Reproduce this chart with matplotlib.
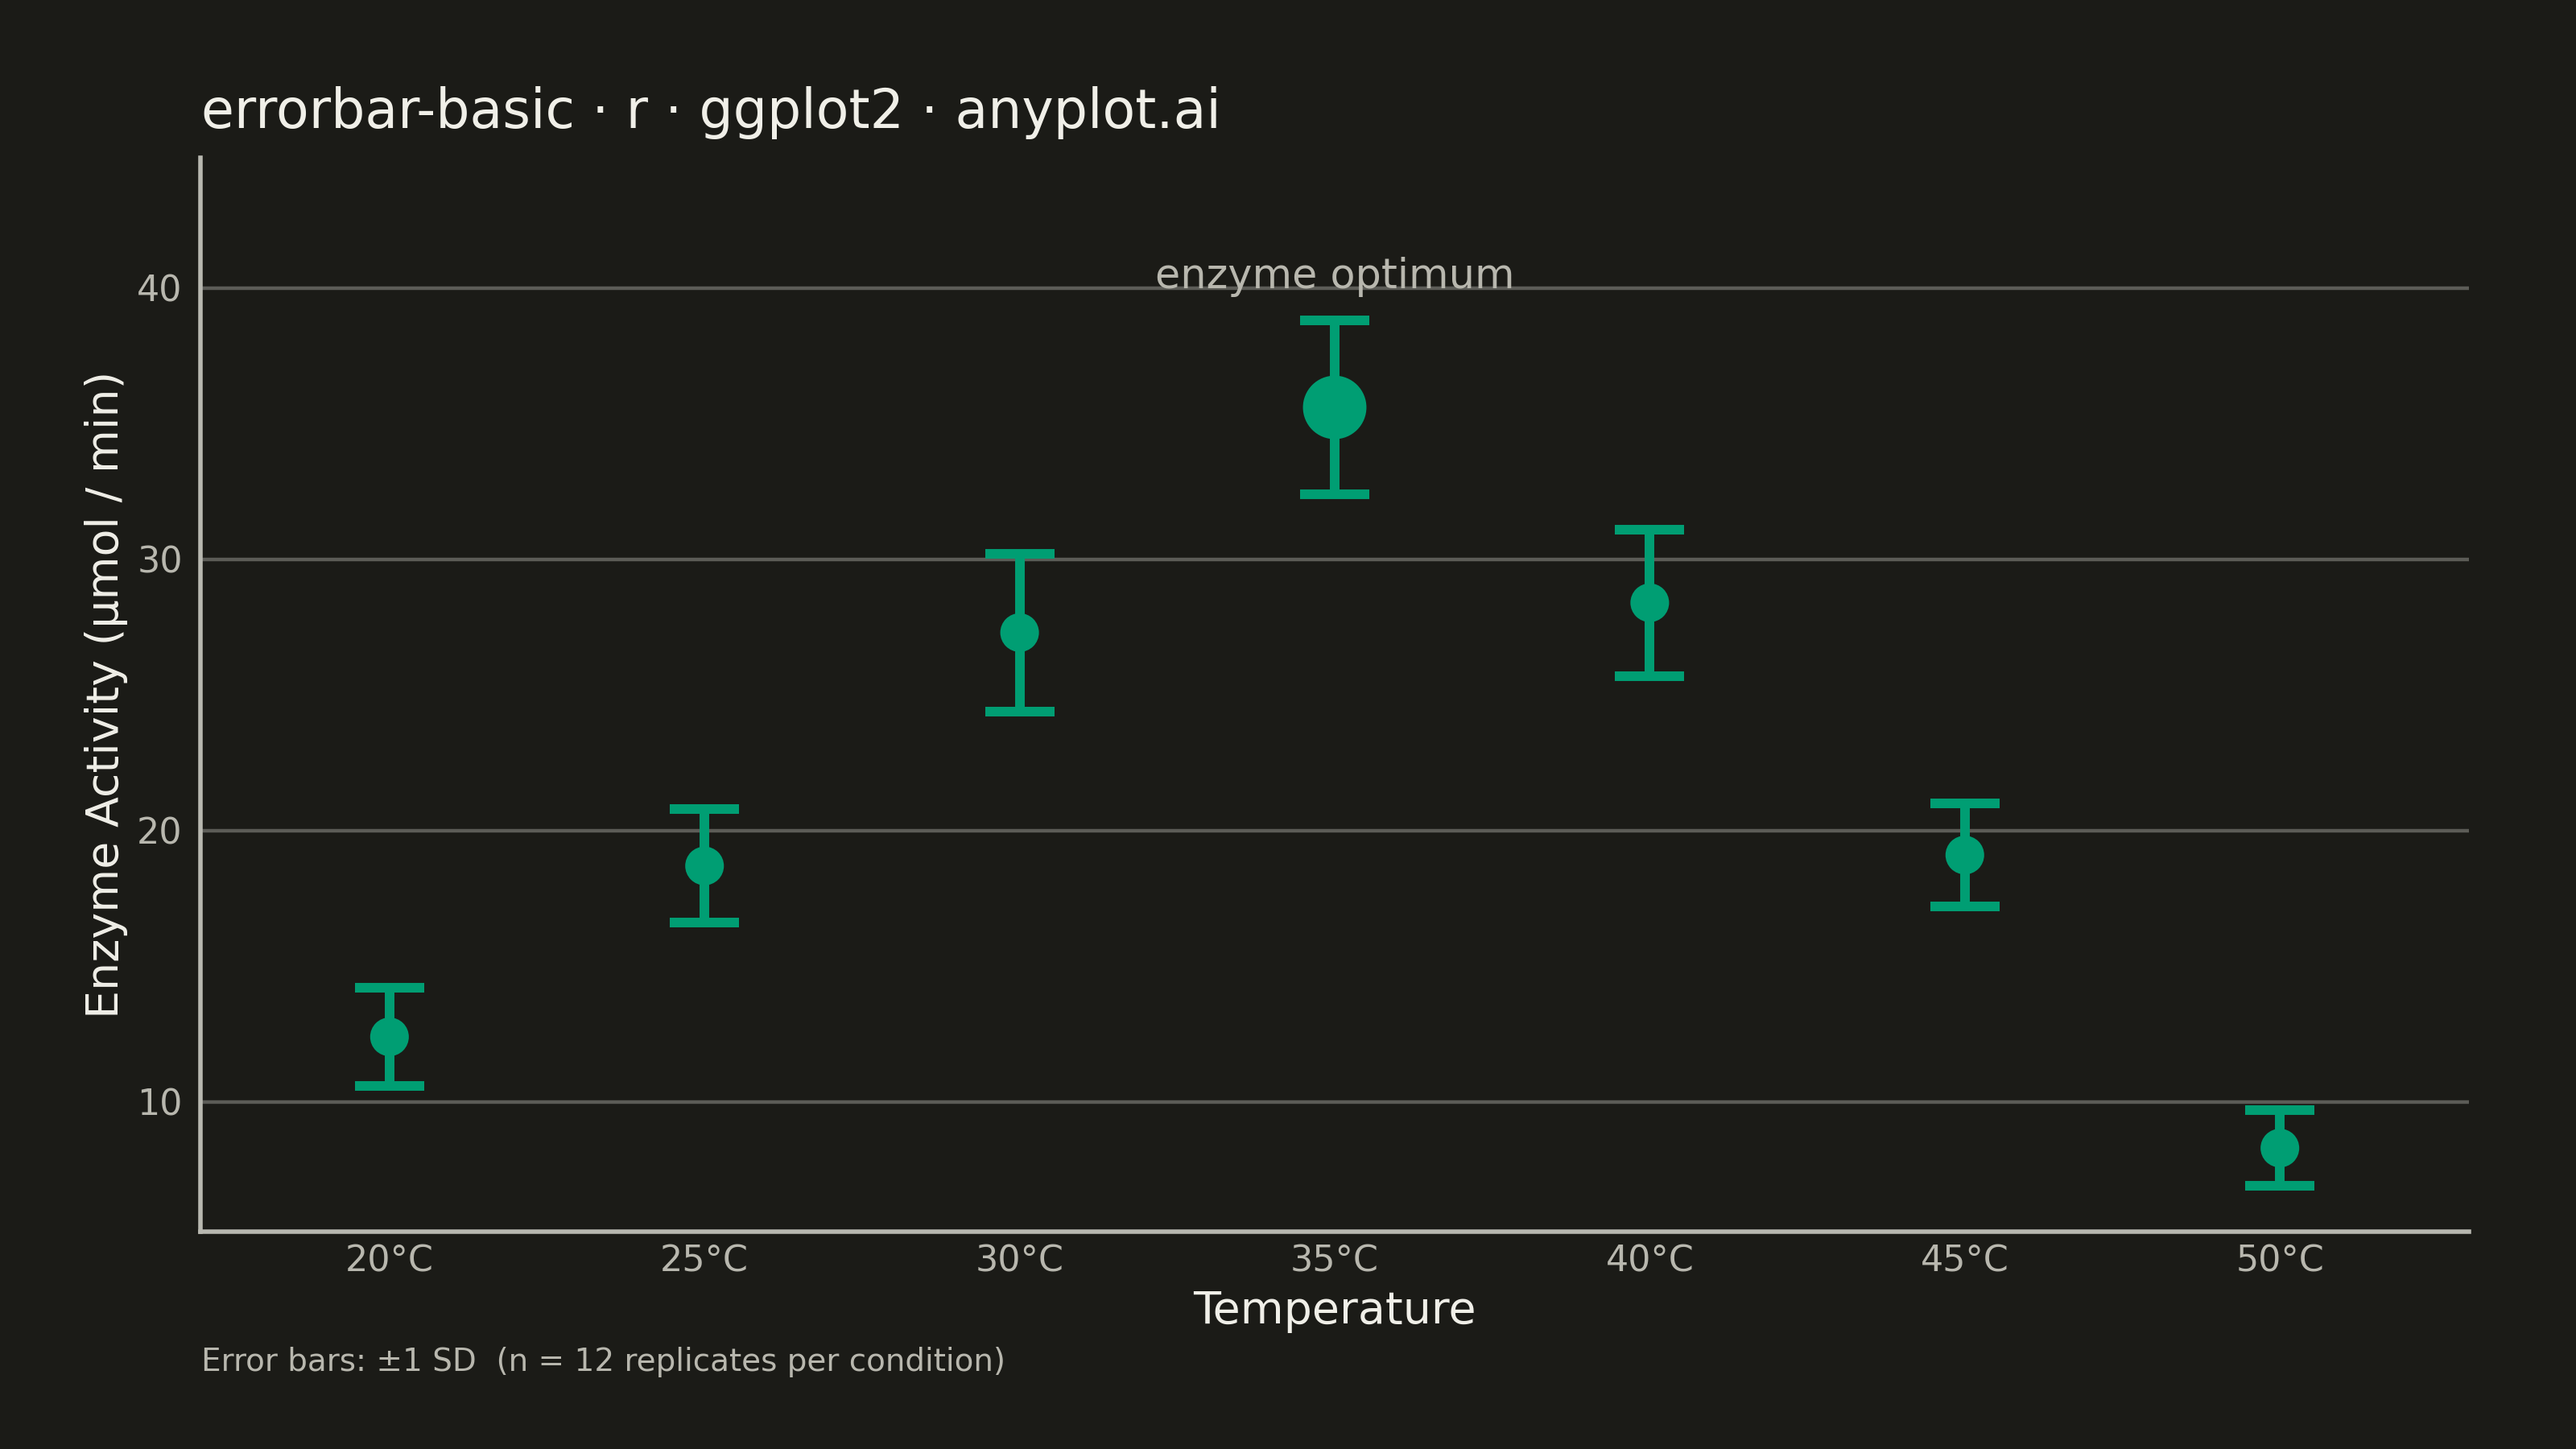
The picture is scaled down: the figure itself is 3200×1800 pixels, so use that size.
import matplotlib
matplotlib.use("Agg")
import matplotlib.pyplot as plt
import numpy as np

# Data
temperatures = ["20°C", "25°C", "30°C", "35°C", "40°C", "45°C", "50°C"]
mean_activity = [12.4, 18.7, 27.3, 35.6, 28.4, 19.1, 8.3]
sd_activity = [1.8, 2.1, 2.9, 3.2, 2.7, 1.9, 1.4]
y_ticks = [10, 20, 30, 40]

BG = "#1B1B17"
GREEN = "#009E73"
GRID = "#5C5C57"
SPINE = "#B8B8B0"
TEXT = "#F0EFE8"
TICK = "#B8B7AE"

plt.rcParams['font.family'] = ['DejaVu Sans']

fig = plt.figure(figsize=(16, 9), dpi=200, facecolor=BG)
ax = fig.add_axes([249/3200, 1 - 1530/1800, (3067-249)/3200, (1530-196)/1800])
ax.set_facecolor(BG)

x = np.arange(1, len(temperatures) + 1)
means = np.array(mean_activity)
sds = np.array(sd_activity)
opt = int(np.argmax(means))

ax.errorbar(x, means, yerr=sds, fmt='none', ecolor=GREEN, elinewidth=4.3,
            capsize=15.5, capthick=4.3, zorder=3)
sizes = np.where(np.arange(len(x)) == opt, 28.4**2, 17.3**2)
ax.scatter(x, means, s=sizes, color=GREEN, edgecolors='none', zorder=4)

ax.text(x[opt], 40, "enzyme optimum", ha='center', va='baseline',
        fontsize=18.3, color=TICK, zorder=5)

ax.set_xlim(0.4, len(x) + 0.6)
ax.set_ylim(5.22, 44.8)
ax.set_xticks(x)
ax.set_xticklabels(temperatures)
ax.set_yticks(y_ticks)
ax.yaxis.grid(True, color=GRID, linewidth=1.6)
ax.xaxis.grid(False)
ax.set_axisbelow(True)

for s in ['top', 'right']:
    ax.spines[s].set_visible(False)
for s in ['left', 'bottom']:
    ax.spines[s].set_color(SPINE)
    ax.spines[s].set_linewidth(2.0)

ax.tick_params(axis='both', length=0, labelsize=16, labelcolor=TICK)
ax.tick_params(axis='y', pad=8)
ax.tick_params(axis='x', pad=5.5)

ax.set_xlabel("Temperature", fontsize=20, color=TEXT, labelpad=5)
ax.set_ylabel("Enzyme Activity (µmol / min)", fontsize=20, color=TEXT, labelpad=4)

fig.text(250/3200, 1 - 159/1800, "errorbar-basic · r · ggplot2 · anyplot.ai",
         fontsize=24, color=TEXT, ha='left', va='baseline')
fig.text(250/3200, 1 - 1703/1800, "Error bars: ±1 SD  (n = 12 replicates per condition)",
         fontsize=14, color=TICK, ha='left', va='baseline')

fig.savefig("out.png", dpi=200, facecolor=BG)
